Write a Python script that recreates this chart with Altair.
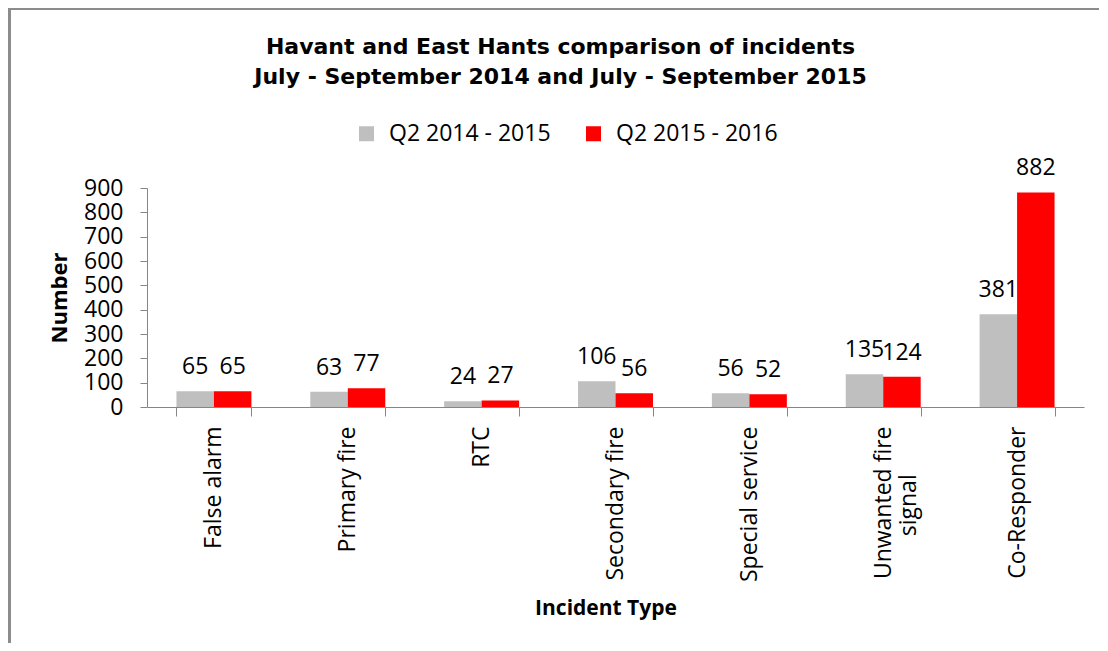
import altair as alt
import pandas as pd

categories = ["False alarm", "Primary fire", "RTC", "Secondary fire",
              "Special service", "Unwanted fire signal", "Co-Responder"]
series = ["Q2 2014 - 2015", "Q2 2015 - 2016"]
q2_2014_2015 = [65, 63, 24, 106, 56, 135, 381]
q2_2015_2016 = [65, 77, 27, 56, 52, 124, 882]
y_ticks = [0, 100, 200, 300, 400, 500, 600, 700, 800, 900]
colors = ["#bfbfbf", "#ff0000"]

rows = []
for i, c in enumerate(categories):
    rows.append({"category": c, "series": series[0], "value": q2_2014_2015[i]})
    rows.append({"category": c, "series": series[1], "value": q2_2015_2016[i]})
df = pd.DataFrame(rows)

FONT = "Open Sans"
AX = "#868686"
W, H = 937, 219

pad = "\u00a0" * 8 + "\u2060"
label_expr = ("datum.label == 'Unwanted fire signal' ? ['Unwanted fire', 'signal" + pad + "'] : datum.label")

base = alt.Chart(df).encode(
    x=alt.X("category:N", sort=categories,
            scale=alt.Scale(paddingInner=0.44, paddingOuter=0.22),
            axis=alt.Axis(title="Incident Type", labelAngle=-90, labelAlign="right",
                          labelBaseline="middle", labelFont=FONT, labelFontSize=23,
                          labelColor="black", labelPadding=10, labelLimit=400,
                          labelExpr=label_expr,
                          tickBand="extent", tickSize=9, tickColor=AX, domainColor=AX,
                          titleFont=FONT, titleFontSize=21, titleFontWeight="bold",
                          titleColor="black", titlePadding=16, titleX=W / 2 - 10)),
    xOffset=alt.XOffset("series:N", sort=series),
    y=alt.Y("value:Q", scale=alt.Scale(domain=[0, 900], nice=False),
            axis=alt.Axis(title="Number", values=y_ticks, grid=False,
                          labelFont=FONT, labelFontSize=23, labelColor="black",
                          labelPadding=17, tickSize=7, tickColor=AX, domainColor=AX,
                          titleFont=FONT, titleFontSize=22, titleFontWeight="bold",
                          titleColor="black", titlePadding=12)),
)

bars = base.mark_bar().encode(
    color=alt.Color("series:N", sort=series,
                    scale=alt.Scale(domain=series, range=colors),
                    legend=alt.Legend(title=None, orient="none", direction="horizontal",
                                      legendX=208, legendY=-66, padding=0,
                                      symbolType="square", symbolSize=225,
                                      symbolStrokeWidth=0, labelFont=FONT,
                                      labelFontSize=23, labelColor="black",
                                      labelOffset=11, columnPadding=31, labelLimit=400))
)

labels = base.mark_text(font=FONT, fontSize=23, color="black", baseline="alphabetic",
                        dy=-17).encode(text="value:Q")

border = alt.Chart(pd.DataFrame({"a": [0]})).mark_rect(
    fillOpacity=0, stroke="#8c8c8c", strokeWidth=3
).encode(x=alt.value(-137.5), x2=alt.value(W + 200),
         y=alt.value(-179.5), y2=alt.value(H + 400))

chart = alt.layer(border, bars, labels).properties(
    width=W, height=H,
    autosize=alt.AutoSizeParams(type="none"),
    padding={"left": 139, "top": 180, "right": 15, "bottom": 236},
    title=alt.TitleParams(
        text=["Havant and East Hants comparison of incidents",
              "July - September 2014 and July - September 2015"],
        font="DejaVu Sans", fontSize=22, fontWeight="bold", color="black",
        anchor="middle", dx=-55, offset=-82, lineHeight=30),
).configure_view(stroke=None)

chart.save("out.html", embed_options={"renderer": "svg", "actions": False})
